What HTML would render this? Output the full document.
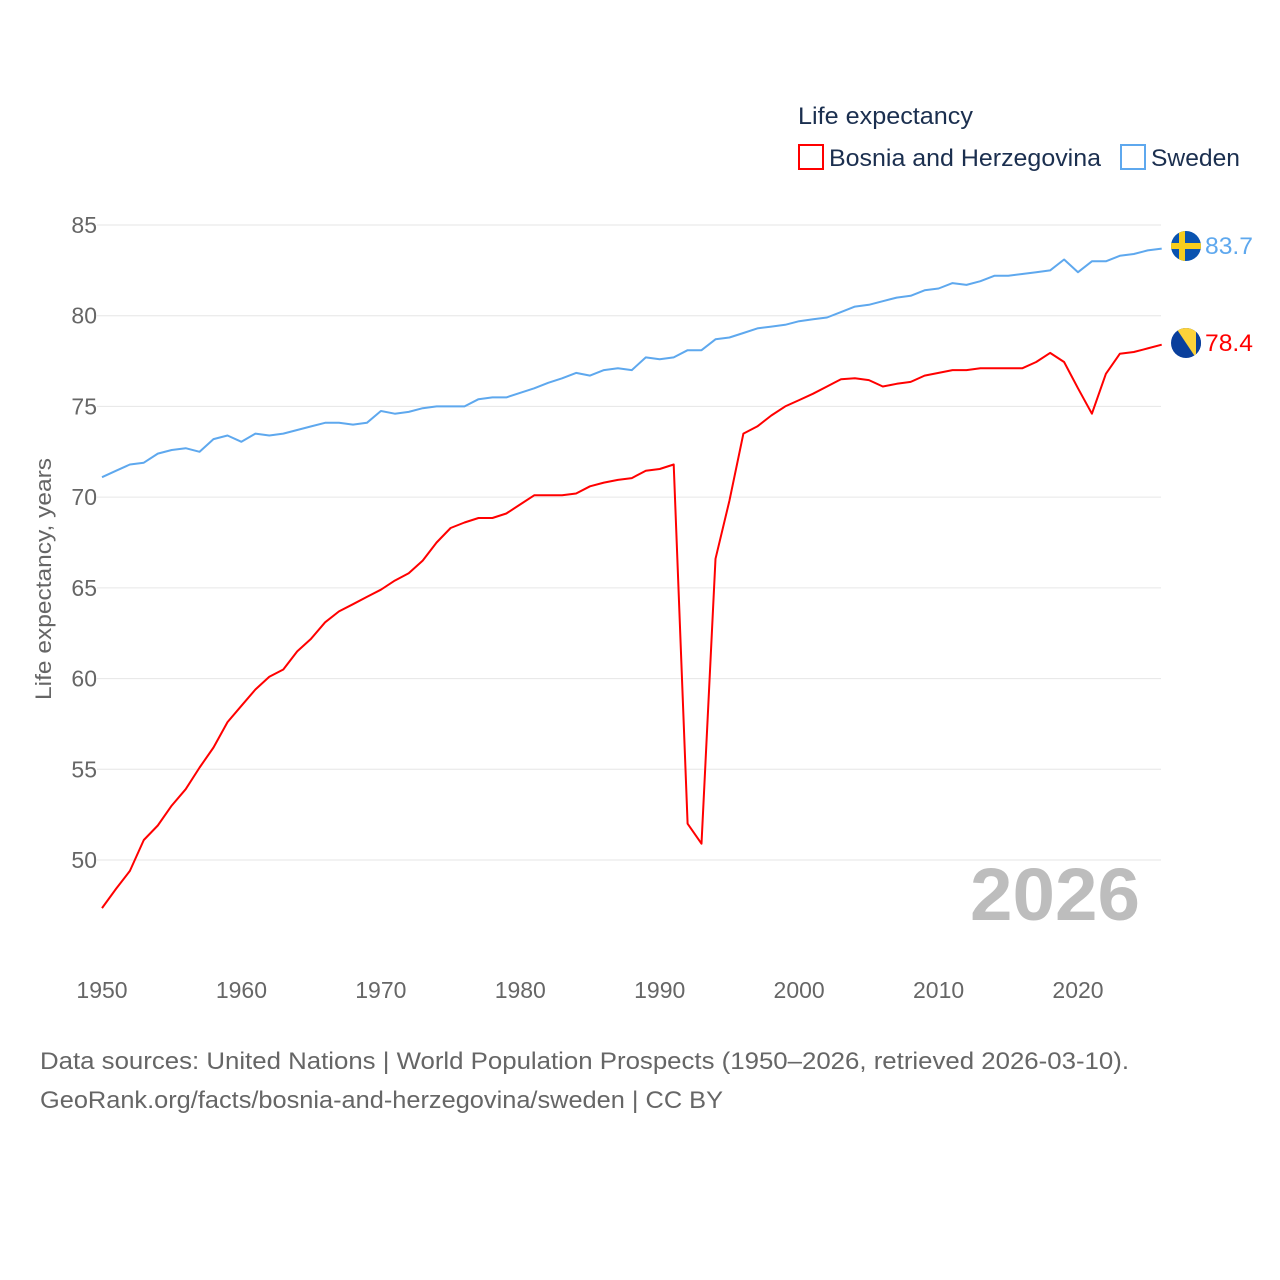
<!DOCTYPE html>
<html><head><meta charset="utf-8"><style>
body{margin:0;background:#fff;}
svg{display:block;font-family:"Liberation Sans",sans-serif;}
</style></head><body>
<svg width="1280" height="1280" viewBox="0 0 1280 1280">
<g id="grid"></g>
<g id="yticks"></g>
<g id="xticks"></g>
<text transform="translate(51,579) rotate(-90)" text-anchor="middle" font-size="22" fill="#666" textLength="242" lengthAdjust="spacingAndGlyphs">Life expectancy, years</text>
<text x="1140" y="920" text-anchor="end" font-size="74" font-weight="bold" fill="#bdbdbd" textLength="170" lengthAdjust="spacingAndGlyphs">2026</text>
<g id="series"></g>
<g>
<text x="798" y="124" font-size="24" fill="#1b2f4f" textLength="175" lengthAdjust="spacingAndGlyphs">Life expectancy</text>
<rect x="799" y="145" width="24" height="24" fill="none" stroke="#f00" stroke-width="2"/>
<text x="829" y="166" font-size="24" fill="#1b2f4f" textLength="272" lengthAdjust="spacingAndGlyphs">Bosnia and Herzegovina</text>
<rect x="1121" y="145" width="24" height="24" fill="none" stroke="#5ea8ee" stroke-width="2"/>
<text x="1151" y="166" font-size="24" fill="#1b2f4f" textLength="89" lengthAdjust="spacingAndGlyphs">Sweden</text>
</g>
<defs>
<clipPath id="c1"><circle cx="1186" cy="246" r="15"/></clipPath>
<clipPath id="c2"><circle cx="1186" cy="343" r="15"/></clipPath>
</defs>
<g clip-path="url(#c1)">
<rect x="1171" y="231" width="30" height="30" fill="#0a53b0"/>
<rect x="1171" y="243" width="30" height="6" fill="#f7cd1d"/>
<rect x="1179" y="231" width="6" height="30" fill="#f7cd1d"/>
</g>
<g clip-path="url(#c2)">
<rect x="1171" y="328" width="30" height="30" fill="#0a3f9c"/>
<polygon points="1176,328 1196,328 1196,358" fill="#fcd23a"/>
<rect x="1196" y="328" width="5" height="30" fill="#0a3f9c"/>
</g>
<text x="1205" y="254" font-size="24" fill="#5ea8ee" textLength="48" lengthAdjust="spacingAndGlyphs">83.7</text>
<text x="1205" y="351" font-size="24" fill="#f00" textLength="48" lengthAdjust="spacingAndGlyphs">78.4</text>
<text x="40" y="1069" font-size="24" fill="#666" textLength="1089" lengthAdjust="spacingAndGlyphs">Data sources: United Nations | World Population Prospects (1950–2026, retrieved 2026-03-10).</text>
<text x="40" y="1108" font-size="24" fill="#666" textLength="683" lengthAdjust="spacingAndGlyphs">GeoRank.org/facts/bosnia-and-herzegovina/sweden | CC BY</text>
</svg>
<script>
const years=[];for(let y=1950;y<=2026;y++)years.push(y);
const bosnia=[47.35,48.4,49.4,51.1,51.9,53.0,53.9,55.1,56.2,57.6,58.5,59.4,60.1,60.5,61.5,62.2,63.1,63.7,64.1,64.5,64.9,65.4,65.8,66.5,67.5,68.3,68.6,68.85,68.85,69.1,69.6,70.1,70.1,70.1,70.2,70.6,70.8,70.95,71.05,71.45,71.55,71.8,52.0,50.9,66.6,69.8,73.5,73.9,74.5,75.0,75.35,75.7,76.1,76.5,76.55,76.45,76.1,76.25,76.35,76.7,76.85,77.0,77.0,77.1,77.1,77.1,77.1,77.45,77.95,77.45,76.0,74.6,76.8,77.9,78.0,78.2,78.4];
const sweden=[71.1,71.45,71.8,71.9,72.4,72.6,72.7,72.5,73.2,73.4,73.05,73.5,73.4,73.5,73.7,73.9,74.1,74.1,74.0,74.1,74.75,74.6,74.7,74.9,75.0,75.0,75.0,75.4,75.5,75.5,75.75,76.0,76.3,76.55,76.85,76.7,77.0,77.1,77.0,77.7,77.6,77.7,78.1,78.1,78.7,78.8,79.05,79.3,79.4,79.5,79.7,79.8,79.9,80.2,80.5,80.6,80.8,81.0,81.1,81.4,81.5,81.8,81.7,81.9,82.2,82.2,82.3,82.4,82.5,83.1,82.4,83.0,83.0,83.3,83.4,83.6,83.7];
const yTicks=[50,55,60,65,70,75,80,85];
const xTicks=[1950,1960,1970,1980,1990,2000,2010,2020];
const NS='http://www.w3.org/2000/svg';
const X=y=>102+(y-1950)*(1078-102)/70;
const Y=v=>860-(v-50)*(635/35);
function mk(t,a,p){const e=document.createElementNS(NS,t);for(const k in a)e.setAttribute(k,a[k]);p.appendChild(e);return e;}
const grid=document.getElementById('grid'),yt=document.getElementById('yticks'),xt=document.getElementById('xticks'),ser=document.getElementById('series');
yTicks.forEach(v=>{
 const l=mk('line',{x1:97,x2:1161,y1:Y(v),y2:Y(v),stroke:'#e6e6e6','stroke-width':1},grid);
 
 
 const t=mk('text',{x:97,y:Y(v)+8,'text-anchor':'end','font-size':23,fill:'#666'},yt);
 t.textContent=v;
 
 
});
xTicks.forEach(v=>{
 const t=mk('text',{x:X(v),y:998,'text-anchor':'middle','font-size':23,fill:'#666'},xt);
 t.textContent=v;
 
 
});
function line(vals,color,name){
 const d=vals.map((v,i)=>(i?'L':'M')+X(years[i]).toFixed(1)+','+Y(v).toFixed(1)).join('');
 const p=mk('path',{d:d,fill:'none',stroke:color,'stroke-width':2,'stroke-linejoin':'round'},ser);
 
 
}
line(sweden,'#5ea8ee','sweden-line');
line(bosnia,'#f00','bosnia-line');
</script>
</body></html>
